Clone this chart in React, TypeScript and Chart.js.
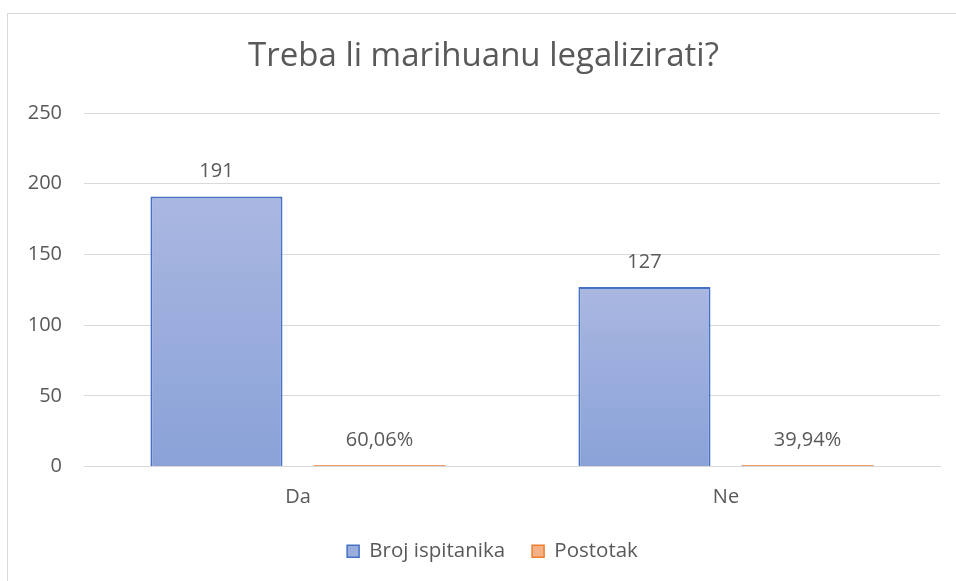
import React, { useEffect, useRef } from "react";
import { Chart, registerables } from "chart.js";

Chart.register(...registerables);

const categories = ["Da", "Ne"];
const brojIspitanika = [191, 127];
const postotak = [0.6006, 0.3994];
const seriesNames = ["Broj ispitanika", "Postotak"];
const yTicks = [0, 50, 100, 150, 200, 250];
const chartTitle = "Treba li marihuanu legalizirati?";

const FONT = "'Open Sans', 'Noto Sans', sans-serif";
const GREY = "#595959";
const W = 956;
const H = 600;

const fmtPct = (v: number) => (v * 100).toFixed(2).replace(".", ",") + "%";

const framePlugin = {
  id: "frame",
  beforeDraw(chart: any) {
    const c = chart.ctx;
    c.save();
    c.fillStyle = "#ffffff";
    c.fillRect(0, 0, chart.width, chart.height);
    c.strokeStyle = "#d9d9d9";
    c.lineWidth = 1;
    c.strokeRect(7.5, 13.5, chart.width + 20, chart.height + 20);
    c.restore();
  },
};

const legendShiftPlugin = {
  id: "legendShift",
  afterLayout(chart: any) {
    if (chart.legend) {
      chart.legend.left += 9;
      chart.legend.right += 9;
    }
  },
};

const labelsPlugin = {
  id: "valueLabels",
  afterDatasetsDraw(chart: any) {
    const c = chart.ctx;
    c.save();
    c.font = `20px ${FONT}`;
    c.fillStyle = GREY;
    c.textAlign = "center";
    c.textBaseline = "middle";
    chart.data.datasets.forEach((ds: any, di: number) => {
      const meta = chart.getDatasetMeta(di);
      meta.data.forEach((el: any, i: number) => {
        const v = ds.data[i];
        const txt = di === 0 ? String(v) : fmtPct(v);
        c.fillText(txt, el.x, el.y - 25);
      });
    });
    c.restore();
  },
};

export default function App() {
  const ref = useRef<HTMLCanvasElement>(null);
  useEffect(() => {
    const canvas = ref.current!;
    const chart = new Chart(canvas, {
      type: "bar",
      data: {
        labels: categories,
        datasets: [
          {
            label: seriesNames[0],
            data: brojIspitanika,
            backgroundColor: (ctx: any) => {
              const ch = ctx.chart;
              const y = ch.scales && ch.scales.y;
              if (!y || !ch.chartArea || ctx.raw === undefined) return "#9aaddc";
              const top = y.getPixelForValue(ctx.raw);
              const bottom = y.getPixelForValue(0);
              const g = ch.ctx.createLinearGradient(0, top, 0, bottom);
              g.addColorStop(0, "#aab7e1");
              g.addColorStop(1, "#8aa2d8");
              return g;
            },
            borderColor: "#4472c4",
            borderWidth: 2,
          },
          {
            label: seriesNames[1],
            data: postotak,
            backgroundColor: "#ee9a68",
            borderColor: "#ed7d31",
            borderWidth: 0,
            minBarLength: 1.5,
          },
        ],
      },
      options: {
        animation: false,
        responsive: false,
        maintainAspectRatio: false,
        layout: { padding: { left: 27, right: 16, top: 20, bottom: 28.5 } },
        datasets: { bar: { categoryPercentage: 0.762, barPercentage: 0.81 } },
        plugins: {
          tooltip: { enabled: false },
          title: {
            display: true,
            text: chartTitle,
            color: GREY,
            font: { family: FONT, size: 33, weight: "normal" },
            padding: { top: 17, bottom: 36.4 },
          },
          legend: {
            display: true,
            position: "bottom",
            labels: {
              color: GREY,
              font: { family: FONT, size: 20.5 },
              boxWidth: 12,
              boxHeight: 12,
              padding: 27,
              generateLabels: () => [
                { text: seriesNames[0], fillStyle: "#9aaddc", strokeStyle: "#4472c4", lineWidth: 1.5, fontColor: GREY, datasetIndex: 0 },
                { text: seriesNames[1], fillStyle: "#f4b183", strokeStyle: "#ed7d31", lineWidth: 1.5, fontColor: GREY, datasetIndex: 1 },
              ],
            },
          },
        },
        scales: {
          x: {
            grid: { display: false, drawTicks: false },
            border: { display: true, color: "#d9d9d9", width: 1 },
            ticks: { color: GREY, font: { family: FONT, size: 20 }, padding: 19 },
            afterFit: (s: any) => { s.height = 47.5; },
          },
          y: {
            min: 0,
            max: 250,
            afterBuildTicks: (s: any) => { s.ticks = yTicks.map((v) => ({ value: v })); },
            grid: { color: "#d9d9d9", drawTicks: false },
            border: { display: false },
            ticks: { color: GREY, font: { family: FONT, size: 20 }, padding: 22 },
            afterFit: (s: any) => { s.width = 57; },
          },
        },
      },
      plugins: [framePlugin, legendShiftPlugin, labelsPlugin],
    } as any);
    return () => chart.destroy();
  }, []);
  return (
    <div style={{ position: "fixed", left: 0, top: 0, width: W, height: H }}>
      <canvas ref={ref} width={W} height={H} style={{ display: "block", width: W, height: H }} />
    </div>
  );
}
